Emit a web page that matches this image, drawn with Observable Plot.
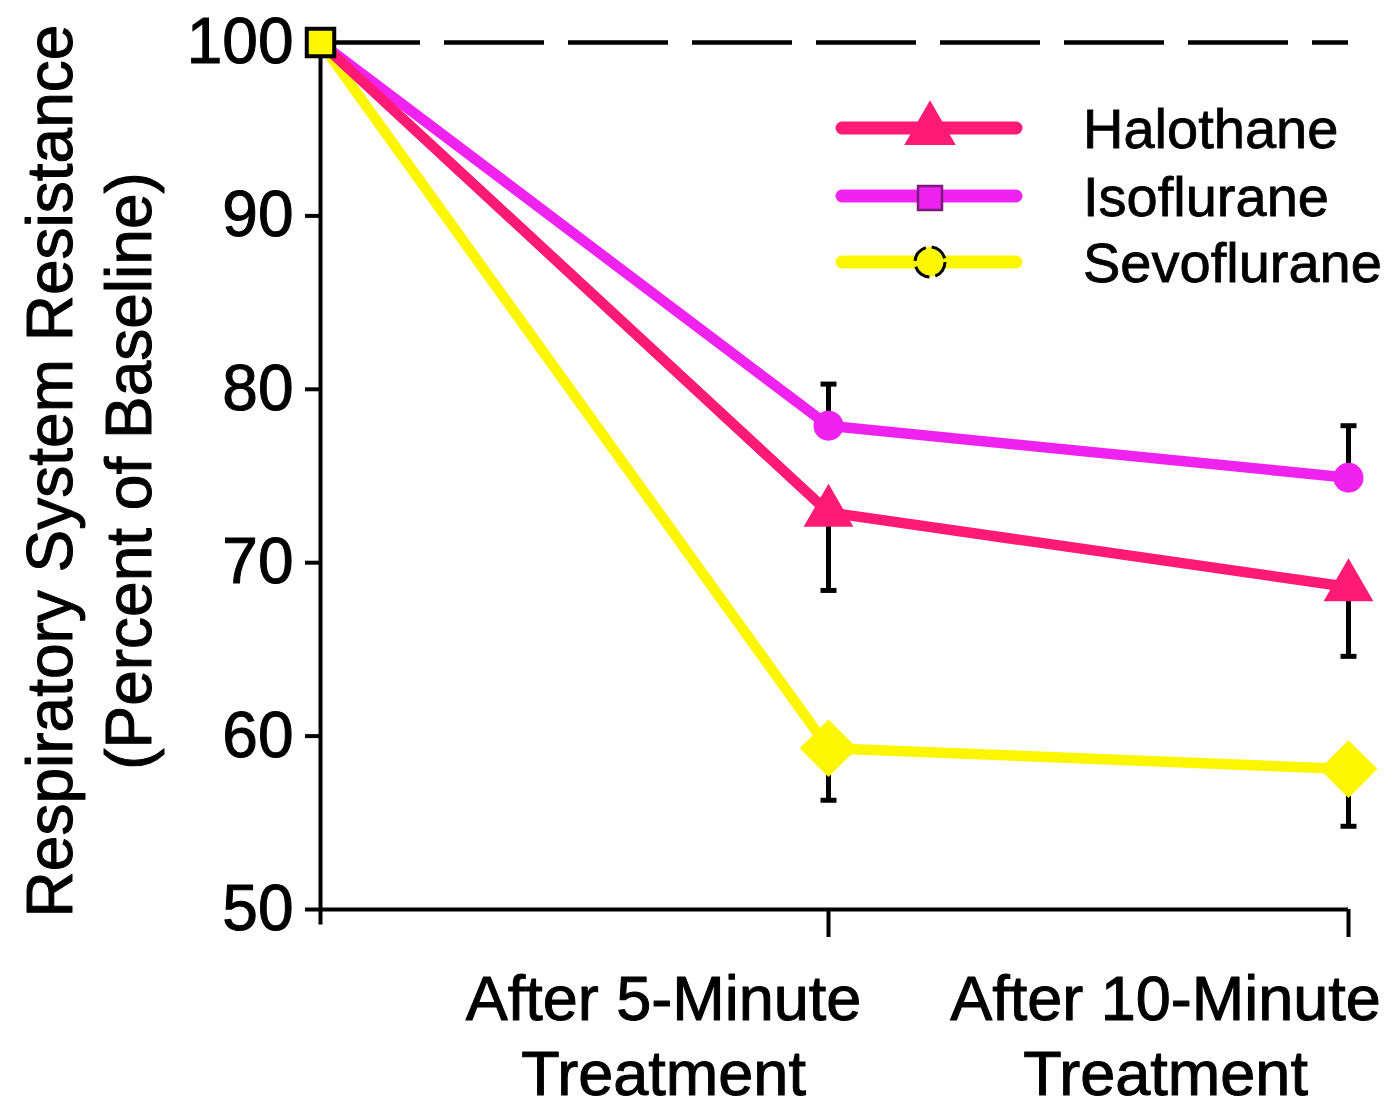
<!DOCTYPE html>
<html>
<head>
<meta charset="utf-8">
<script src="https://cdn.jsdelivr.net/npm/d3@7"></script>
<script src="https://cdn.jsdelivr.net/npm/@observablehq/plot@0.6"></script>
<style>
  html, body { margin: 0; padding: 0; background: #fff; }
  #wrap { position: relative; width: 1398px; height: 1111px; overflow: hidden; }
  #legend { position: absolute; left: 0; top: 0; }
</style>
</head>
<body>
<div id="wrap"></div>
<script>
// ---- data ----
const times = [0, 5, 10];
const timeLabels = ["Baseline", "After 5-Minute\nTreatment", "After 10-Minute\nTreatment"];
const seriesNames = ["Halothane", "Isoflurane", "Sevoflurane"];
const seriesColors = ["#ff1a75", "#f022f0", "#fcf700"];
const seriesSymbols = ["triangle", "circle", "diamond2"];
const halothane = [100, 72.9, 68.6];
const isoflurane = [100, 77.9, 74.9];
const sevoflurane = [100, 59.3, 58.1];
const halothaneErr = [0, -4.5, -4.0];
const isofluraneErr = [0, 2.4, 3.0];
const sevofluraneErr = [0, -3.0, -3.3];
const yTicks = [50, 60, 70, 80, 90, 100];
const baselineValue = 100;

const seriesValues = [halothane, isoflurane, sevoflurane];
const seriesErrs = [halothaneErr, isofluraneErr, sevofluraneErr];

const rows = [];
seriesNames.forEach((name, i) => {
  times.forEach((t, j) => {
    rows.push({series: name, t, v: seriesValues[i][j], err: seriesErrs[i][j], order: i});
  });
});
const errRows = rows.filter(d => d.err !== 0).map(d => ({...d, end: d.v + d.err}));
const after = rows.filter(d => d.t > 0);

const capSymbol = {
  draw(ctx, size) {
    const w = Math.sqrt(size);
    ctx.moveTo(-w / 2, 0);
    ctx.lineTo(w / 2, 0);
  }
};

const font = "'Liberation Sans', Arial, sans-serif";
const drawOrder = ["Sevoflurane", "Isoflurane", "Halothane"];

const marks = [
  // dashed baseline reference
  Plot.ruleY([baselineValue], {x1: 0, x2: 10, stroke: "#000", strokeWidth: 4.5, strokeDasharray: "100,24"}),
  // axes lines
  Plot.ruleX([0], {y1: 49.1, y2: 100, stroke: "#000", strokeWidth: 4}),
  Plot.ruleY([50], {x1: 0, x2: 10, stroke: "#000", strokeWidth: 4}),
  Plot.axisY({ticks: yTicks, tickSize: 15, tickPadding: 12, strokeWidth: 4, fontSize: 64, fill: "#000",
    tickFormat: d => String(d), stroke: "#000", label: null}),
  Plot.axisX({ticks: [5, 10], tickSize: 28, tickFormat: () => "", strokeWidth: 4, stroke: "#000", label: null}),
  // error bars
  Plot.link(errRows, {x1: "t", x2: "t", y1: "v", y2: "end", stroke: "#000", strokeWidth: 5}),
  Plot.dot(errRows, {x: "t", y: "end", symbol: capSymbol, r: 9, stroke: "#000", strokeWidth: 5}),
];
drawOrder.forEach(name => {
  const i = seriesNames.indexOf(name);
  const data = rows.filter(d => d.series === name);
  marks.push(Plot.line(data, {x: "t", y: "v", stroke: seriesColors[i], strokeWidth: 10.5, strokeLinejoin: "round", strokeLinecap: "round"}));
});
drawOrder.forEach(name => {
  const i = seriesNames.indexOf(name);
  const data = after.filter(d => d.series === name);
  const r = seriesSymbols[i] === "triangle" ? 18.5 : seriesSymbols[i] === "circle" ? 15 : 26;
  marks.push(Plot.dot(data, {x: "t", y: "v", symbol: seriesSymbols[i], r, fill: seriesColors[i], stroke: "none"}));
});
// baseline square
marks.push(Plot.dot([{t: times[0], v: baselineValue}], {x: "t", y: "v", symbol: "square", r: 15.5, fill: seriesColors[2], stroke: "#000", strokeWidth: 4}));
// x tick labels
marks.push(Plot.text([{t: times[1], label: timeLabels[1]}], {x: "t", text: "label", frameAnchor: "bottom", dy: 124, dx: -165,
  fontSize: 63, lineHeight: 1.2, lineAnchor: "middle", fill: "#000", stroke: "#000", strokeWidth: 1}));
marks.push(Plot.text([{t: times[2], label: timeLabels[2]}], {x: "t", text: "label", frameAnchor: "bottom", dy: 124, dx: -183,
  fontSize: 63, lineHeight: 1.2, lineAnchor: "middle", fill: "#000", stroke: "#000", strokeWidth: 1}));
// y axis title
marks.push(Plot.text(["Respiratory System Resistance\n(Percent of Baseline)"], {frameAnchor: "left", dx: -234, dy: -5, rotate: -90,
  fontSize: 64, lineHeight: 1.22, lineAnchor: "middle", textAnchor: "middle", fill: "#000", stroke: "#000", strokeWidth: 1}));

const chart = Plot.plot({
  width: 1398,
  height: 1111,
  marginLeft: 320,
  marginRight: 50,
  marginTop: 42,
  marginBottom: 202,
  style: {fontFamily: font, fontSize: "64px", color: "#000", background: "#fff", overflow: "visible"},
  x: {type: "linear", domain: [0, 5, 10], range: [320, 828, 1348], axis: null},
  y: {domain: [50, 100], axis: null},
  marks
});
d3.select(chart).selectAll("g[aria-label='y-axis tick label'] text").attr("stroke", "#000").attr("stroke-width", 1);
document.getElementById("wrap").appendChild(chart);

// ---- legend (overlay) ----
const legend = d3.select("#wrap").append("svg").attr("id", "legend")
  .attr("width", 1398).attr("height", 320);
const legendY = [128, 196, 262];
seriesNames.forEach((name, i) => {
  const y = legendY[i];
  const g = legend.append("g");
  g.append("line").attr("x1", 842).attr("x2", 1016).attr("y1", y).attr("y2", y)
    .attr("stroke", seriesColors[i]).attr("stroke-width", 13).attr("stroke-linecap", "round");
  if (i === 0) {
    g.append("path").attr("transform", `translate(930,${y + 2})`)
      .attr("d", d3.symbol(d3.symbolTriangle, 1150)()).attr("fill", seriesColors[i]);
  } else if (i === 1) {
    g.append("rect").attr("x", 918).attr("y", y - 10).attr("width", 24).attr("height", 24)
      .attr("fill", seriesColors[i]).attr("stroke", "#7a1a7a").attr("stroke-width", 2.5);
  } else {
    g.append("circle").attr("cx", 930).attr("cy", y).attr("r", 15)
      .attr("fill", seriesColors[i]).attr("stroke", "#000").attr("stroke-width", 3).attr("stroke-dasharray", "18,6");
  }
  g.append("text").attr("x", 1083).attr("y", y).attr("dy", "0.35em")
    .attr("font-family", font).attr("font-size", 56).attr("fill", "#000")
    .attr("stroke", "#000").attr("stroke-width", 0.8).text(name);
});
</script>
</body>
</html>
